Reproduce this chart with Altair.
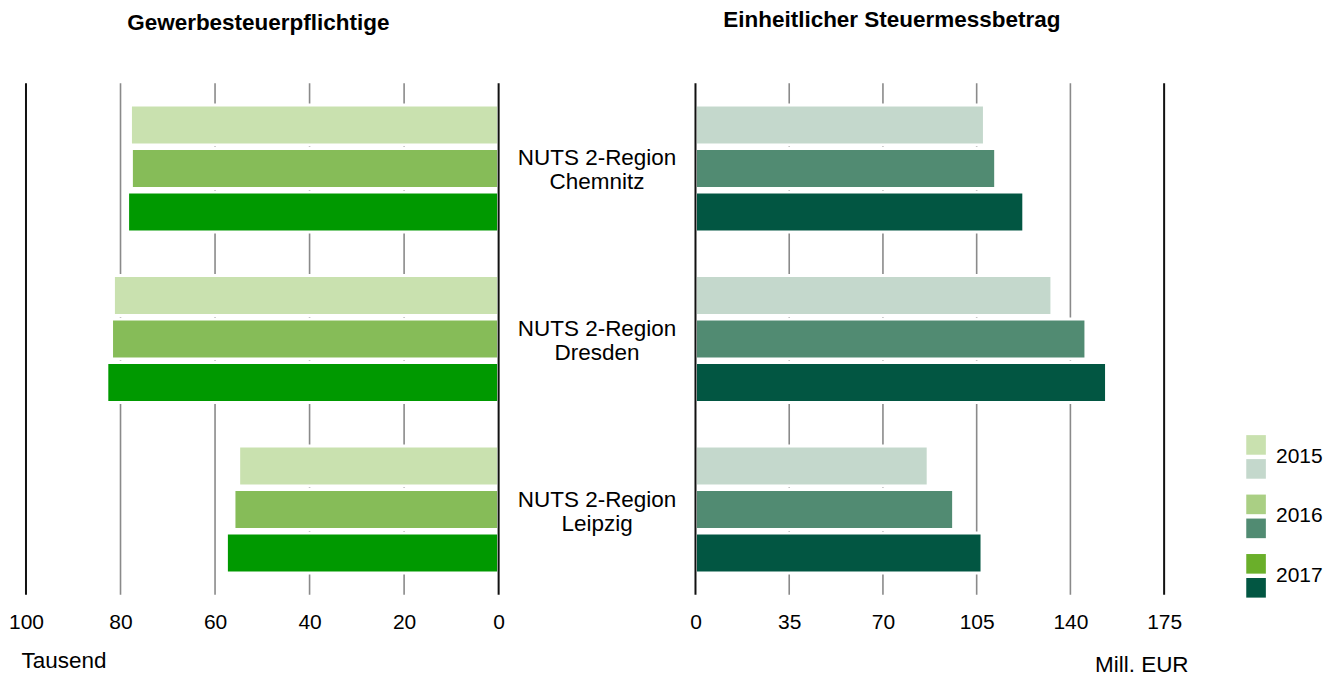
import altair as alt
import pandas as pd

FONT = "Liberation Sans, Arial, sans-serif"

regions = ["Chemnitz", "Dresden", "Leipzig"]
region_labels = ["NUTS 2-Region\nChemnitz", "NUTS 2-Region\nDresden", "NUTS 2-Region\nLeipzig"]
years = ["2015", "2016", "2017"]

# Gewerbesteuerpflichtige (Tausend), per year over regions
gewerbe_2015 = [77.9, 81.5, 55.0]
gewerbe_2016 = [77.7, 81.9, 56.0]
gewerbe_2017 = [78.5, 82.9, 57.6]

# Einheitlicher Steuermessbetrag (Mill. EUR)
mess_2015 = [107.9, 133.1, 86.9]
mess_2016 = [112.1, 145.8, 96.4]
mess_2017 = [122.6, 153.5, 107.0]

left_ticks = [0, 20, 40, 60, 80, 100]
left_grid = [20, 40, 60, 80]
left_frame = [0, 100]
right_ticks = [0, 35, 70, 105, 140, 175]
right_grid = [35, 70, 105, 140]
right_frame = [0, 175]

left_colors = ["#C9E1AF", "#86BC58", "#009900"]
right_colors = ["#C4D8CC", "#518B72", "#025642"]
legend_left_colors = ["#C9E1AF", "#AACF84", "#6AAF2A"]

rows = []
for y, gv, mv in zip(years, [gewerbe_2015, gewerbe_2016, gewerbe_2017],
                     [mess_2015, mess_2016, mess_2017]):
    for r, g, m in zip(regions, gv, mv):
        rows.append({"region": r, "year": y, "gewerbe": g, "mess": m})
df = pd.DataFrame(rows)

H = 512


def panel(field, domain, ticks, grid, frame, colors, reverse, title, title_dx,
          title_offset, axis_title, title_x, title_align, title_y, width, tag):
    df_p = df.rename(columns={"region": "region_" + tag, "year": "year_" + tag})
    y_enc = alt.Y(f"region_{tag}:N", sort=regions, axis=None,
                  scale=alt.Scale(paddingInner=0, paddingOuter=0))
    yoff_enc = alt.YOffset(f"year_{tag}:N", sort=years,
                           scale=alt.Scale(paddingInner=0.08, paddingOuter=0.502))
    xscale = alt.Scale(domain=domain, reverse=reverse, nice=False, zero=True)
    axis = alt.Axis(values=ticks, grid=False, domain=False, ticks=False, tickSize=0,
                    labelFontSize=21, labelFont=FONT, labelColor="#000",
                    labelPadding=17, labelFlush=False, format="d",
                    title=axis_title, titleFont=FONT, titleFontSize=22.5,
                    titleFontWeight="normal", titleColor="#000",
                    titleAlign=title_align, titleX=title_x, titleY=title_y,
                    titleBaseline="middle", titleAnchor="start")
    gridl = alt.Chart(pd.DataFrame({field: grid})).mark_rule(
        color="#8a8a8a", strokeWidth=1.6).encode(
        x=alt.X(f"{field}:Q", scale=xscale, axis=axis))
    bars = alt.Chart(df_p).mark_bar(stroke="white", strokeWidth=3).encode(
        x=alt.X(f"{field}:Q", scale=xscale, axis=axis),
        y=y_enc,
        yOffset=yoff_enc,
        color=alt.Color(f"year_{tag}:N", sort=years,
                        scale=alt.Scale(domain=years, range=colors), legend=None),
    )
    framel = alt.Chart(pd.DataFrame({field: frame})).mark_rule(
        color="#111", strokeWidth=2).encode(
        x=alt.X(f"{field}:Q", scale=xscale, axis=axis))
    return alt.layer(gridl, bars, framel).properties(
        width=width, height=H,
        title=alt.TitleParams(title, font=FONT, fontSize=22.5, fontWeight="bold",
                              color="#000", anchor="middle", dx=title_dx,
                              offset=title_offset),
    )


left = panel("gewerbe", [0, 100], left_ticks, left_grid, left_frame, left_colors,
             True, "Gewerbesteuerpflichtige", -4, 48, "Tausend", -5, "left", 66, 473, "l")
right = panel("mess", [0, 175], right_ticks, right_grid, right_frame, right_colors,
              False, "Einheitlicher Steuermessbetrag", -38, 51, "Mill. EUR", 493,
              "right", 70, 469, "r")

lab_df = pd.DataFrame({"region_m": regions, "label": region_labels})
mid = alt.Chart(lab_df).mark_text(
    font=FONT, fontSize=22.5, color="#000", lineBreak="\n", lineHeight=24,
    align="center", baseline="middle", dy=-10).encode(
    y=alt.Y("region_m:N", sort=regions, axis=None,
            scale=alt.Scale(paddingInner=0, paddingOuter=0)),
    text="label:N",
).properties(width=197, height=H)

leg_y = alt.Y("year_g:N", sort=years, axis=None,
              scale=alt.Scale(range=[344.25, 522.75], paddingInner=0, paddingOuter=0))
leg_df_a = pd.DataFrame({"year_g": years, "key": [y + "a" for y in years]})
leg_df_b = pd.DataFrame({"year_g": years, "key": [y + "b" for y in years]})
leg_keys = [y + "a" for y in years] + [y + "b" for y in years]
leg_cols = legend_left_colors + right_colors
leg_color = alt.Color("key:N", scale=alt.Scale(domain=leg_keys, range=leg_cols), legend=None)

swatch_a = alt.Chart(leg_df_a).mark_square(size=385, filled=True, opacity=1, yOffset=-12).encode(
    x=alt.value(92), y=leg_y, color=leg_color)
swatch_b = alt.Chart(leg_df_b).mark_square(size=385, filled=True, opacity=1, yOffset=12).encode(
    x=alt.value(92), y=leg_y, color=leg_color)
leg_text = alt.Chart(pd.DataFrame({"year_g": years})).mark_text(
    font=FONT, fontSize=21, color="#000", align="left", baseline="middle").encode(
    x=alt.value(112),
    y=leg_y,
    text="year_g:N",
)
legend = alt.layer(swatch_a, swatch_b, leg_text).properties(width=170, height=H)

chart = alt.hconcat(left, mid, right, legend, spacing=0, bounds="flush").resolve_scale(
    x="independent", y="independent", color="independent", yOffset="independent"
).properties(
    background="white",
    padding={"left": 0, "top": 0, "right": 0, "bottom": 0}
).configure_view(stroke="transparent", strokeWidth=0)

chart.save("out.html", embed_options={"renderer": "svg", "actions": False})
